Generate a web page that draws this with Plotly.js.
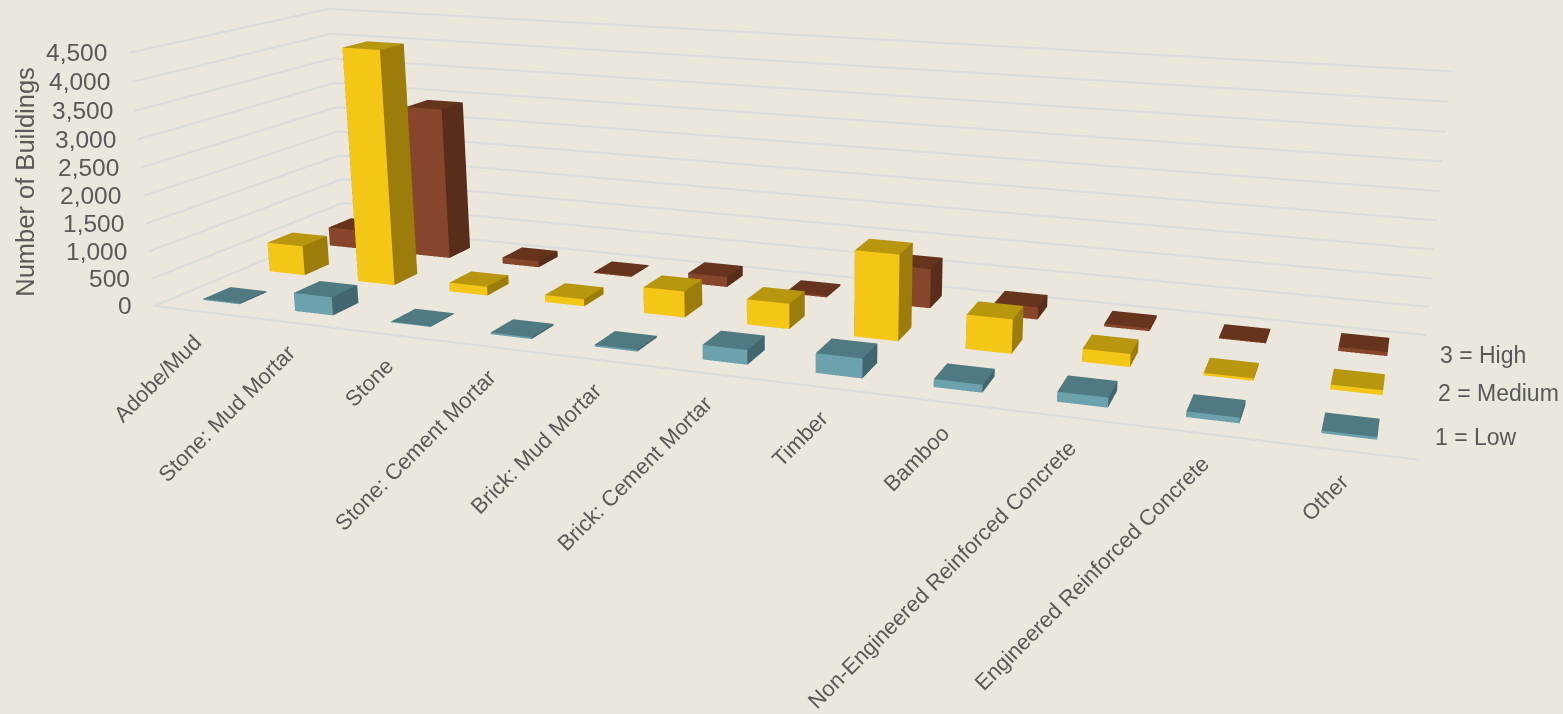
<!DOCTYPE html>
<html>
<head>
<meta charset="utf-8">
<title>Building damage by construction type</title>
<script src="https://cdn.plot.ly/plotly-3.0.1.min.js"></script>
<style>
  html, body { margin: 0; padding: 0; width: 100%; height: 100%; overflow: hidden; background: #EBE7DC; }
  #chart { position: absolute; left: -1px; top: -497px; width: 1644px; height: 1472px; }
</style>
</head>
<body>
<div id="chart"></div>
<script>
// Buildings per construction type, one row of bars per grade
const categories = ["Adobe/Mud", "Stone: Mud Mortar", "Stone", "Stone: Cement Mortar", "Brick: Mud Mortar",
  "Brick: Cement Mortar", "Timber", "Bamboo", "Non-Engineered Reinforced Concrete",
  "Engineered Reinforced Concrete", "Other"];
const low    = [20, 330, 15, 30, 30, 250, 330, 130, 160, 90, 40];
const medium = [560, 4350, 165, 130, 470, 450, 1500, 590, 220, 40, 80];
const high   = [370, 2920, 120, 20, 190, 30, 720, 220, 50, 15, 70];
const seriesNames = ["1 = Low", "2 = Medium", "3 = High"];
const valueTicks = [0, 500, 1000, 1500, 2000, 2500, 3000, 3500, 4000, 4500];

const barSide = 0.4;
const barDepth = 0.4;
const ink = "#595959";
const gridColor = "#DADBDD";
const font = "Liberation Sans, Arial, sans-serif";

const palette = [
  { front: "#6BA2AE", top: "#4F7A81", side: "#426670" },
  { front: "#F4C716", top: "#B8960E", side: "#9C7C0B" },
  { front: "#87452B", top: "#66341C", side: "#582D19" }
];

// One mesh per grade: every bar is a box standing on the floor
function barMesh(values, row, colors, name) {
  const X = [], Y = [], Z = [], I = [], J = [], K = [], faceColor = [];
  values.forEach((v, c) => {
    const x0 = c + 0.5 - barSide / 2, x1 = c + 0.5 + barSide / 2;
    const y0 = row + 0.5 - barDepth / 2, y1 = row + 0.5 + barDepth / 2;
    const n = X.length;
    [[x0, y0, 0], [x1, y0, 0], [x1, y1, 0], [x0, y1, 0],
     [x0, y0, v], [x1, y0, v], [x1, y1, v], [x0, y1, v]].forEach(p => { X.push(p[0]); Y.push(p[1]); Z.push(p[2]); });
    const quad = (a, b, cc, d, col) => {
      I.push(n + a, n + a); J.push(n + b, n + cc); K.push(n + cc, n + d); faceColor.push(col, col);
    };
    quad(0, 1, 5, 4, colors.front);
    quad(4, 5, 6, 7, colors.top);
    quad(1, 2, 6, 5, colors.side);
    quad(3, 0, 4, 7, colors.side);
    quad(2, 3, 7, 6, colors.side);
  });
  return {
    type: "mesh3d", name, x: X, y: Y, z: Z, i: I, j: J, k: K, facecolor: faceColor,
    flatshading: true, hoverinfo: "skip", showscale: false,
    lighting: { ambient: 1, diffuse: 0, specular: 0, fresnel: 0, roughness: 1 },
    lightposition: { x: 0, y: 0, z: 1000 }
  };
}

// Grid: left wall and back wall at each tick, plus the floor's front edge
function gridTrace() {
  const X = [], Y = [], Z = [];
  valueTicks.forEach(t => {
    X.push(0, 0, categories.length, null);
    Y.push(0, 3, 3, null);
    Z.push(t, t, t, null);
  });
  X.push(0, categories.length, null); Y.push(0, 0, null); Z.push(0, 0, null);
  return { type: "scatter3d", mode: "lines", x: X, y: Y, z: Z, hoverinfo: "skip", showlegend: false,
    line: { color: gridColor, width: 4 } };
}

const textStyle = size => ({ family: font, size, color: ink });
const annotations = [];
const base = { showarrow: false };

categories.forEach((c, i) => annotations.push(Object.assign({}, base, {
  x: i + 0.5, y: 0, z: 0, text: c, textangle: -45, xanchor: "right", yanchor: "top",
  xshift: 9, yshift: -15, font: textStyle(22)
})));
valueTicks.forEach(t => annotations.push(Object.assign({}, base, {
  x: 0, y: 0, z: t, text: t.toLocaleString("en-US"), xanchor: "right", yanchor: "middle",
  xshift: -20, font: textStyle(24.5)
})));
annotations.push(Object.assign({}, base, {
  x: 0, y: 0, z: 2250, text: "Number of Buildings", textangle: -90, xanchor: "center", yanchor: "middle",
  xshift: -117, font: textStyle(25.5)
}));
seriesNames.forEach((s, r) => annotations.push(Object.assign({}, base, {
  x: categories.length, y: r + 0.5, z: 0, text: s, xanchor: "left", yanchor: "middle",
  xshift: 13, yshift: -2, font: textStyle(23)
})));

const hiddenAxis = range => ({
  range, autorange: false, showgrid: false, zeroline: false, showline: false, showticklabels: false,
  showbackground: false, showspikes: false, ticks: "", title: { text: "" }
});

const layout = {
  paper_bgcolor: "#EBE7DC",
  margin: { l: 0, r: 0, t: 0, b: 0 },
  autosize: true,
  showlegend: false,
  scene: {
    domain: { x: [0, 1], y: [0, 1] },
    bgcolor: "#EBE7DC",
    aspectmode: "manual",
    aspectratio: { x: 1, y: 0.2758, z: 0.2119 },
    xaxis: hiddenAxis([0, categories.length]),
    yaxis: hiddenAxis([0, 3]),
    zaxis: hiddenAxis([0, 4500]),
    camera: {
      eye: { x: 0.4844, y: -1.2896, z: 0.3355 },
      center: { x: 0.0373, y: 0.0031, z: -0.0349 },
      up: { x: -0.0886, y: 0.2459, z: 0.9652 },
      projection: { type: "perspective" }
    },
    annotations
  }
};

const traces = [gridTrace(),
  barMesh(low, 0, palette[0], seriesNames[0]),
  barMesh(medium, 1, palette[1], seriesNames[1]),
  barMesh(high, 2, palette[2], seriesNames[2])];

Plotly.newPlot("chart", traces, layout, { displayModeBar: false, responsive: false });
</script>
</body>
</html>
